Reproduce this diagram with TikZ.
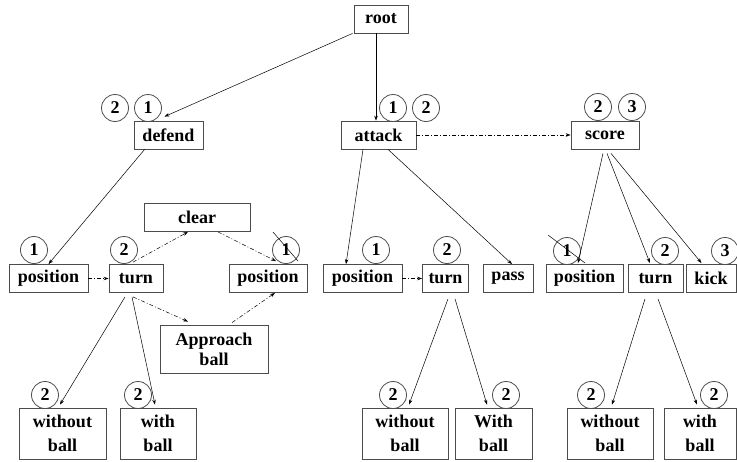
\documentclass[tikz,border=0pt]{standalone}
\usepackage{fontspec}
\setmainfont{Liberation Serif}
\usetikzlibrary{arrows.meta}

\tikzset{
	box/.style={draw=black!70, line width=0.8pt, minimum height=28pt, inner sep=0pt, align=center, font=\fontsize{18}{24}\selectfont\bfseries},
	tallbox/.style={box, minimum height=51pt},
	num/.style={draw=black!70, line width=0.8pt, circle, minimum size=27pt, inner sep=0pt, font=\fontsize{18}{20}\selectfont\bfseries},
	arr/.style={->, line width=0.5pt},
	darr/.style={->, line width=0.5pt, dash pattern=on 4pt off 2pt on 1pt off 2pt},
	>={Stealth[length=5pt,width=3.5pt]}
}

\begin{document}
\begin{tikzpicture}[x=1pt, y=-1pt]
	\useasboundingbox (0,0) rectangle (737,461);
	\node[box, minimum width=54pt] (root) at (381,19) {root};
	\node[box, minimum width=69pt] (defend) at (168.5,135) {defend};
	\node[box, minimum width=75pt] (attack) at (378.5,135) {attack};
	\node[box, minimum width=68pt] (score) at (605,135) {score};
	\node[num] (defend-a) at (115,108) {2};
	\node[num] (defend-b) at (148,108) {1};
	\node[num] (attack-a) at (393,108) {1};
	\node[num] (attack-b) at (426,108) {2};
	\node[num] (score-a) at (598,107) {2};
	\node[num] (score-b) at (632,107) {3};

	\node[box, minimum width=106pt] (clear) at (197,217.5) {clear};
	\node[box, minimum width=79pt] (dpos) at (48.5,278.5) {position};
	\node[box, minimum width=54pt] (dturn) at (136,278.5) {turn};
	\node[box, minimum width=78pt] (dposb) at (268,278.5) {position};
	\node[box, minimum width=108pt, minimum height=48pt, font=\fontsize{18}{20}\selectfont\bfseries] (approach) at (214,349) {Approach\\ball};
	\node[num] (dpos-n) at (34,250) {1};
	\node[num] (dturn-n) at (124,250) {2};
	\node[num] (dposb-n) at (286,250) {1};
	\draw[line width=0.5pt] ([shift={(-13,-18)}]dposb-n.center) -- ([shift={(12,11)}]dposb-n.center);

	\node[box, minimum width=79pt] (apos) at (362.5,278.5) {position};
	\node[box, minimum width=46pt] (aturn) at (445.5,278.5) {turn};
	\node[box, minimum width=50pt] (pass) at (508,278.5) {pass};
	\node[num] (apos-n) at (376,250) {1};
	\node[num] (aturn-n) at (447,250) {2};

	\node[box, minimum width=77pt] (spos) at (584.5,278.5) {position};
	\node[box, minimum width=55pt] (sturn) at (655.5,278.5) {turn};
	\node[box, minimum width=50pt] (kick) at (711,278.5) {kick};
	\node[num] (spos-n) at (567,251) {1};
	\node[num] (sturn-n) at (665,251) {2};
	\node[num] (kick-n) at (725,251) {3};
	\draw[line width=0.5pt] ([shift={(-19,-16)}]spos-n.center) -- ([shift={(18,12)}]spos-n.center);

	\node[tallbox, minimum width=87pt] (dwo) at (62.5,433.5) {without\\ball};
	\node[tallbox, minimum width=76pt] (dwi) at (158,433.5) {with\\ball};
	\node[tallbox, minimum width=86pt] (awo) at (405,433.5) {without\\ball};
	\node[tallbox, minimum width=77pt] (awi) at (493.5,433.5) {With\\ball};
	\node[tallbox, minimum width=86pt] (swo) at (610,433.5) {without\\ball};
	\node[tallbox, minimum width=72pt] (swi) at (700,433.5) {with\\ball};
	\node[num] (dwo-n) at (45,395) {2};
	\node[num] (dwi-n) at (138,395) {2};
	\node[num] (awo-n) at (393,395) {2};
	\node[num] (awi-n) at (506,395) {2};
	\node[num] (swo-n) at (591,395) {2};
	\node[num] (swi-n) at (714,395) {2};

	\draw[arr] ([xshift=-1pt]root.south west) -- ([xshift=-4pt, yshift=4pt]defend.north);
	\draw[arr] ([xshift=-5pt]root.south) -- ([xshift=-2.5pt]attack.north);
	\draw[arr] ([xshift=11pt]defend.south west) -- (dpos.north);
	\draw[darr] (dpos.east) -- (dturn.west);
	\draw[darr] ([xshift=-3pt, yshift=2pt]dturn.north) -- ([xshift=-9pt]clear.south);
	\draw[darr] ([xshift=21pt]clear.south) -- ([xshift=8pt, yshift=3pt]dposb.north);
	\draw[darr] ([xshift=-3pt, yshift=-4pt]dturn.south) -- ([xshift=-26pt, yshift=3pt]approach.north);
	\draw[darr] ([xshift=18pt, yshift=2pt]approach.north) -- ([xshift=7pt]dposb.south);
	\draw[arr] ([xshift=-11pt, yshift=-4pt]dturn.south) -- ([xshift=-2.5pt, yshift=3pt]dwo.north);
	\draw[arr] ([xshift=-4pt, yshift=-4pt]dturn.south) -- ([xshift=-3pt, yshift=3pt]dwi.north);

	\draw[arr] ([xshift=-15.5pt]attack.south) -- ([xshift=-16.5pt]apos.north);
	\draw[arr] ([xshift=9.5pt]attack.south) -- ([xshift=4pt]pass.north);
	\draw[darr] (apos.east) -- (aturn.west);
	\draw[arr] ([xshift=2.5pt, yshift=-6pt]aturn.south) -- ([xshift=4pt, yshift=3pt]awo.north);
	\draw[arr] ([xshift=9.5pt, yshift=-6pt]aturn.south) -- ([xshift=-6.5pt, yshift=3pt]awi.north);
	\draw[darr] (attack.east) -- (score.west);

	\draw[arr] ([xshift=-2pt, yshift=-4pt]score.south) -- ([xshift=-6.5pt, yshift=1pt]spos.north);
	\draw[arr] ([xshift=2pt, yshift=-4pt]score.south) -- ([xshift=-5.5pt, yshift=1pt]sturn.north);
	\draw[arr] ([xshift=6pt, yshift=-4pt]score.south) -- ([xshift=-9.5pt, yshift=1pt]kick.north);
	\draw[arr] ([xshift=-10.5pt, yshift=-6pt]sturn.south) -- ([xshift=2pt, yshift=3pt]swo.north);
	\draw[arr] ([xshift=2.5pt, yshift=-6pt]sturn.south) -- ([xshift=-3pt, yshift=3pt]swi.north);
\end{tikzpicture}
\end{document}
